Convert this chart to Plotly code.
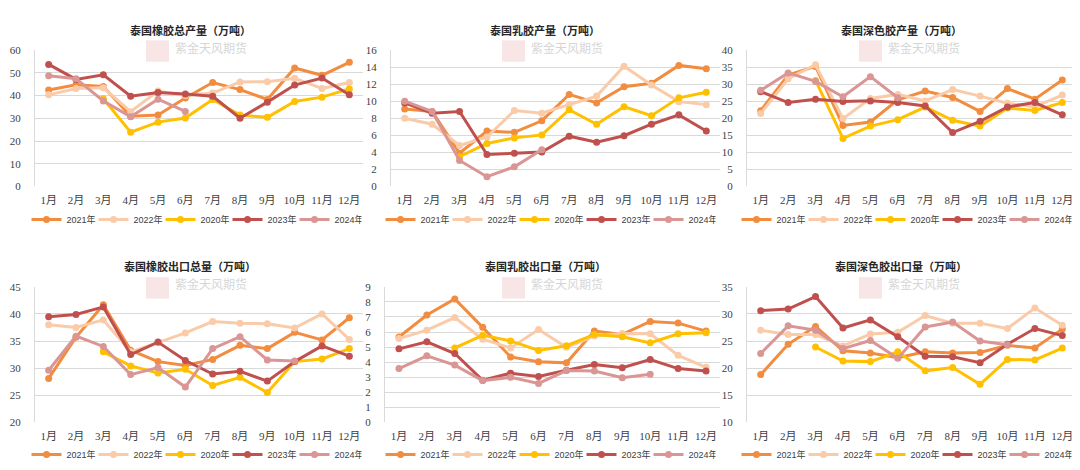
import plotly.graph_objects as go

months = ["1月", "2月", "3月", "4月", "5月", "6月", "7月", "8月", "9月", "10月", "11月", "12月"]
year_labels = ["2021年", "2022年", "2020年", "2023年", "2024年"]
year_colors = ["#F28C3F", "#F9CBA9", "#FFC000", "#C0504D", "#D99694"]

titles = ["泰国橡胶总产量（万吨）", "泰国乳胶产量（万吨）", "泰国深色胶产量（万吨）",
          "泰国橡胶出口总量（万吨）", "泰国乳胶出口量（万吨）", "泰国深色胶出口量（万吨）"]
y_ranges = [[0, 60], [0, 16], [0, 40], [20, 45], [0, 9], [10, 35]]
y_dticks = [10, 2, 5, 5, 1, 5]

N = None
# 泰国橡胶总产量
prod_total_2021 = [42.4, 44.7, 44.0, 30.9, 31.4, 38.9, 45.7, 42.6, 38.3, 52.1, 48.9, 54.6]
prod_total_2022 = [40.3, 43.1, 43.4, 32.9, 42.0, 40.0, 41.1, 46.0, 46.1, 47.6, 43.1, 45.7]
prod_total_2020 = [N, N, 38.6, 23.9, 28.3, 30.1, 38.3, 31.4, 30.4, 37.4, 39.3, 42.9]
prod_total_2023 = [53.7, 47.1, 49.1, 39.7, 41.3, 40.7, 39.7, 30.0, 37.1, 44.6, 47.7, 40.3]
prod_total_2024 = [48.7, 47.4, 37.6, 30.7, 38.4, 33.0, N, N, N, N, N, N]
# 泰国乳胶产量
prod_latex_2021 = [9.1, 8.8, 3.9, 6.5, 6.35, 7.7, 10.8, 9.8, 11.7, 12.1, 14.2, 13.8]
prod_latex_2022 = [8.0, 7.3, 4.8, 5.8, 8.9, 8.6, 9.6, 10.6, 14.1, 11.9, 9.95, 9.6]
prod_latex_2020 = [N, N, 3.5, 5.05, 5.7, 6.05, 9.0, 7.3, 9.35, 8.3, 10.4, 11.05]
prod_latex_2023 = [9.8, 8.6, 8.8, 3.75, 3.9, 4.05, 5.9, 5.2, 5.95, 7.3, 8.4, 6.5]
prod_latex_2024 = [10.0, 8.8, 3.05, 1.15, 2.3, 4.3, N, N, N, N, N, N]
# 泰国深色胶产量
prod_dark_2021 = [22.2, 32.7, 35.2, 17.9, 18.9, 25.4, 28.0, 26.1, 22.0, 28.7, 25.6, 31.2]
prod_dark_2022 = [21.4, 31.6, 35.7, 19.9, 25.8, 27.0, 25.1, 28.4, 26.5, 24.4, 23.4, 26.8]
prod_dark_2020 = [N, N, 31.1, 14.1, 17.7, 19.6, 23.3, 19.4, 17.7, 23.0, 22.3, 24.6]
prod_dark_2023 = [27.8, 24.6, 25.6, 24.9, 25.1, 24.6, 23.6, 15.8, 19.1, 23.3, 24.6, 21.0]
prod_dark_2024 = [28.2, 33.3, 30.8, 26.3, 32.2, 26.0, N, N, N, N, N, N]
# 泰国橡胶出口总量
exp_total_2021 = [28.1, 35.7, 41.7, 33.3, 31.2, 30.5, 31.6, 34.2, 33.6, 36.6, 35.2, 39.3]
exp_total_2022 = [38.0, 37.5, 38.9, 33.0, 34.7, 36.5, 38.6, 38.3, 38.2, 37.4, 40.0, 35.3]
exp_total_2020 = [N, N, 33.0, 30.4, 29.1, 29.8, 26.8, 28.3, 25.5, 31.2, 31.7, 33.6]
exp_total_2023 = [39.5, 39.9, 41.3, 32.5, 34.8, 31.4, 28.9, 29.4, 27.6, 31.2, 34.1, 32.2]
exp_total_2024 = [29.6, 35.9, 34.0, 28.8, 30.1, 26.5, 33.6, 35.8, 31.5, 31.3, N, N]
# 泰国乳胶出口量
exp_latex_2021 = [5.67, 7.13, 8.2, 6.31, 4.34, 4.02, 3.95, 6.06, 5.84, 6.7, 6.59, 6.06]
exp_latex_2022 = [5.56, 6.12, 6.96, 5.52, 4.94, 6.16, 4.98, 5.73, 5.9, 5.88, 4.45, 3.65]
exp_latex_2020 = [N, N, 4.94, 5.78, 5.41, 4.77, 5.09, 5.84, 5.69, 5.28, 5.88, 5.95]
exp_latex_2023 = [4.88, 5.35, 4.57, 2.79, 3.26, 3.05, 3.46, 3.84, 3.63, 4.17, 3.57, 3.41]
exp_latex_2024 = [3.57, 4.42, 3.8, 2.77, 2.99, 2.58, 3.44, 3.41, 2.96, 3.2, N, N]
# 泰国深色胶出口量
exp_dark_2021 = [18.8, 24.4, 27.7, 23.2, 22.8, 21.9, 23.0, 22.8, 22.9, 24.2, 23.7, 27.2]
exp_dark_2022 = [27.0, 26.2, 26.2, 24.1, 26.3, 26.6, 29.7, 28.3, 28.3, 27.3, 31.1, 27.9]
exp_dark_2020 = [N, N, 23.9, 21.3, 21.2, 23.0, 19.5, 20.1, 17.0, 21.6, 21.5, 23.7]
exp_dark_2023 = [30.6, 30.9, 33.2, 27.4, 28.9, 25.8, 22.2, 22.1, 21.0, 24.4, 27.3, 26.0]
exp_dark_2024 = [22.7, 27.8, 27.0, 23.6, 25.1, 21.8, 27.6, 28.5, 25.0, 24.3, N, N]

panels = [
    [prod_total_2021, prod_total_2022, prod_total_2020, prod_total_2023, prod_total_2024],
    [prod_latex_2021, prod_latex_2022, prod_latex_2020, prod_latex_2023, prod_latex_2024],
    [prod_dark_2021, prod_dark_2022, prod_dark_2020, prod_dark_2023, prod_dark_2024],
    [exp_total_2021, exp_total_2022, exp_total_2020, exp_total_2023, exp_total_2024],
    [exp_latex_2021, exp_latex_2022, exp_latex_2020, exp_latex_2023, exp_latex_2024],
    [exp_dark_2021, exp_dark_2022, exp_dark_2020, exp_dark_2023, exp_dark_2024],
]

W, H = 1080, 470
# layout in pixels (left, right, top, bottom of plot area)
boxes = [
    (27, 355, 37, 177), (383, 712, 37, 177), (739, 1068, 37, 177),
    (27, 355, 280, 419), (377, 712, 280, 419), (739, 1068, 280, 419),
]
title_pos = [(182, 16), (537, 16), (893, 16), (182, 259), (537, 259), (893, 259)]
legend_pos = [(186, 211), (540, 211), (896, 211), (186, 452), (540, 452), (896, 452)]
logo_pos = [(138, 27), (494, 27), (851, 27), (138, 270), (494, 270), (851, 270)]

tick_font = dict(family="Liberation Serif, Noto Sans CJK SC", size=11, color="#404040")

fig = go.Figure()
layout = dict(
    width=W, height=H, margin=dict(l=0, r=0, t=0, b=0),
    paper_bgcolor="white", plot_bgcolor="white",
    annotations=[], shapes=[],
)

for i, (series, box) in enumerate(zip(panels, boxes)):
    n = "" if i == 0 else str(i + 1)
    x0, x1, yt, yb = box
    layout["xaxis" + n] = dict(
        domain=[x0 / W, x1 / W], anchor="y" + n, type="category",
        range=[-0.5, 11.5], showgrid=False, zeroline=False, showline=False,
        tickfont=tick_font, ticks="", ticklabelstandoff=6, fixedrange=True,
    )
    layout["yaxis" + n] = dict(
        domain=[1 - yb / H, 1 - yt / H], anchor="x" + n,
        range=y_ranges[i], dtick=y_dticks[i], tick0=y_ranges[i][0],
        showgrid=True, gridcolor="#D9D9D9", gridwidth=1,
        zeroline=False, showline=True, linecolor="#D9D9D9", linewidth=1,
        tickfont=tick_font, ticks="", ticklabelstandoff=11, fixedrange=True,
    )
    leg = "legend" + n
    lx, ly = legend_pos[i]
    layout[leg] = dict(
        orientation="h", x=lx / W, y=1 - ly / H, xanchor="center", yanchor="middle",
        font=dict(family="Liberation Sans, Noto Sans CJK SC", size=9, color="#404040"),
        itemwidth=30, bgcolor="rgba(0,0,0,0)", tracegroupgap=0,
        entrywidth=22, entrywidthmode="pixels",
    )
    for vals, name, col in zip(series, year_labels, year_colors):
        fig.add_trace(go.Scatter(
            x=months, y=vals, name=name, mode="lines+markers",
            line=dict(color=col, width=3), marker=dict(color=col, size=7),
            xaxis="x" + n, yaxis="y" + n, legend=leg, connectgaps=False,
        ))
    tx, ty = title_pos[i]
    layout["annotations"].append(dict(
        text="<b>" + titles[i] + "</b>", x=tx / W, y=1 - ty / H, xref="paper", yref="paper",
        showarrow=False, xanchor="center", yanchor="middle",
        font=dict(family="Noto Sans CJK SC", size=11, color="#262626"),
    ))
    # watermark
    gx, gy = logo_pos[i]
    layout["shapes"].append(dict(
        type="rect", xref="paper", yref="paper",
        x0=gx / W, x1=(gx + 23) / W, y0=1 - (gy + 22) / H, y1=1 - gy / H,
        fillcolor="rgba(225,140,140,0.22)", line=dict(width=0), layer="below",
    ))
    layout["annotations"].append(dict(
        text="紫金天风期货", x=(gx + 27) / W, y=1 - (gy + 7) / H, xref="paper", yref="paper",
        showarrow=False, xanchor="left", yanchor="middle",
        font=dict(family="Noto Sans CJK SC", size=12, color="rgba(200,200,200,0.75)"),
    ))

fig.update_layout(**layout)
fig.write_html("out.html")
